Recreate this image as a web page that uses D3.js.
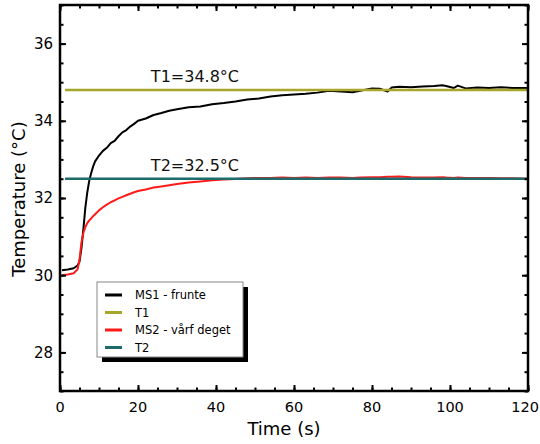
<!DOCTYPE html>
<html>
<head>
<meta charset="utf-8">
<script src="https://cdn.jsdelivr.net/npm/d3@7"></script>
<style>
  body { margin: 0; background: #fff; }
  svg { font-family: "DejaVu Sans", sans-serif; }
</style>
</head>
<body>
<script>
// time axis (s)
const time = [0.5, 2, 3.5, 4.5, 5, 5.5, 6, 6.5, 7, 7.5, 8, 8.5, 9, 10, 11, 12, 13, 14, 15, 16, 17, 18, 19, 20,
  22, 24, 26, 28, 30, 33, 36, 39, 42, 45, 48, 51, 54, 57, 60, 63, 66, 69, 72, 75, 77, 80, 82, 84, 85, 87,
  90, 93, 96, 98, 99, 101, 102, 104, 107, 110, 113, 116, 120];

// MS1 - frunte
const ms1 = [30.13, 30.15, 30.18, 30.25, 30.35, 30.7, 31.2, 31.75, 32.15, 32.45, 32.65, 32.82, 32.95, 33.1, 33.22, 33.3,
  33.42, 33.48, 33.6, 33.7, 33.76, 33.85, 33.92, 34.0, 34.06, 34.15, 34.2, 34.26, 34.3, 34.35, 34.37, 34.43,
  34.46, 34.5, 34.55, 34.58, 34.63, 34.66, 34.68, 34.7, 34.73, 34.78, 34.76, 34.74, 34.78, 34.84, 34.83, 34.76,
  34.86, 34.88, 34.87, 34.89, 34.9, 34.92, 34.9, 34.85, 34.91, 34.84, 34.86, 34.85, 34.87, 34.85, 34.85];

// MS2 - vårf deget
const ms2 = [30.0, 30.02, 30.05, 30.15, 30.4, 30.85, 31.1, 31.25, 31.35, 31.42, 31.47, 31.53, 31.58, 31.68, 31.76, 31.83,
  31.89, 31.94, 31.99, 32.03, 32.07, 32.11, 32.15, 32.18, 32.22, 32.27, 32.3, 32.33, 32.36, 32.4, 32.43, 32.46,
  32.48, 32.49, 32.51, 32.52, 32.52, 32.53, 32.52, 32.53, 32.52, 32.53, 32.53, 32.52, 32.53, 32.54, 32.54, 32.55,
  32.55, 32.56, 32.54, 32.53, 32.53, 32.54, 32.53, 32.52, 32.53, 32.52, 32.52, 32.52, 32.51, 32.51, 32.5];

// reference temperatures
const refNames = ["T1", "T2"];
const refValues = [34.8, 32.5];
const refStart = 1.3;

const xTicks = [0, 20, 40, 60, 80, 100, 120];
const yTicks = [28, 30, 32, 34, 36];

const W = 540, H = 444;
const pLeft = 60, pRight = 528, pTop = 5, pBottom = 391;

const svg = d3.select("body").append("svg")
  .attr("width", W)
  .attr("height", H);

svg.append("rect").attr("width", W).attr("height", H).attr("fill", "#fff");

const x = d3.scaleLinear().domain([0, 120]).range([pLeft, pRight]);
const y = d3.scaleLinear().domain([27, 37]).range([pBottom, pTop]);

const colors = { ms1: "#000000", T1: "#a6a62a", ms2: "#ff1a1a", T2: "#1d6b6b" };

const line = d3.line()
  .x(d => x(d[0]))
  .y(d => y(d[1]));

const plot = svg.append("g");

// series drawn in legend order: MS1, T1, MS2, T2
plot.append("path")
  .datum(time.map((t, i) => [t, ms1[i]]))
  .attr("d", line)
  .attr("fill", "none")
  .attr("stroke", colors.ms1)
  .attr("stroke-width", 2)
  .attr("stroke-linejoin", "round");

function refLine(i) {
  plot.append("path")
    .datum([[refStart, refValues[i]], [120, refValues[i]]])
    .attr("d", line)
    .attr("fill", "none")
    .attr("stroke", colors[refNames[i]])
    .attr("stroke-width", 2.5);
}

refLine(0);

plot.append("path")
  .datum(time.map((t, i) => [t, ms2[i]]))
  .attr("d", line)
  .attr("fill", "none")
  .attr("stroke", colors.ms2)
  .attr("stroke-width", 2)
  .attr("stroke-linejoin", "round");

refLine(1);

// labels above the reference lines
refNames.forEach((n, i) => {
  svg.append("text")
    .attr("x", x(34.6))
    .attr("y", y(refValues[i]) - 8)
    .attr("text-anchor", "middle")
    .attr("font-size", 16)
    .attr("fill", "#111")
    .text(n + "=" + refValues[i] + "°C");
});

// axes: ticks pointing inward, on all four sides
const xMinor = d3.range(0, 121, 5);
const yMinor = d3.range(27, 37.01, 0.5);

const bx = svg.append("g")
  .attr("transform", `translate(0,${pBottom})`)
  .call(d3.axisTop(x).tickValues(xMinor).tickSize(3.5).tickFormat(""));
const bx2 = svg.append("g")
  .attr("transform", `translate(0,${pBottom})`)
  .call(d3.axisTop(x).tickValues(xTicks).tickSize(6).tickFormat(""));
const tx = svg.append("g")
  .attr("transform", `translate(0,${pTop})`)
  .call(d3.axisBottom(x).tickValues(xMinor).tickSize(3.5).tickFormat(""));
const tx2 = svg.append("g")
  .attr("transform", `translate(0,${pTop})`)
  .call(d3.axisBottom(x).tickValues(xTicks).tickSize(6).tickFormat(""));
const ly = svg.append("g")
  .attr("transform", `translate(${pLeft},0)`)
  .call(d3.axisRight(y).tickValues(yMinor).tickSize(3.5).tickFormat(""));
const ly2 = svg.append("g")
  .attr("transform", `translate(${pLeft},0)`)
  .call(d3.axisRight(y).tickValues(yTicks).tickSize(6).tickFormat(""));
const ry = svg.append("g")
  .attr("transform", `translate(${pRight},0)`)
  .call(d3.axisLeft(y).tickValues(yMinor).tickSize(3.5).tickFormat(""));
const ry2 = svg.append("g")
  .attr("transform", `translate(${pRight},0)`)
  .call(d3.axisLeft(y).tickValues(yTicks).tickSize(6).tickFormat(""));

[bx, bx2, tx, tx2, ly, ly2, ry, ry2].forEach(g => {
  g.select(".domain").remove();
  g.selectAll(".tick line").attr("stroke", "#000").attr("stroke-width", 2);
});

// frame
svg.append("rect")
  .attr("x", pLeft).attr("y", pTop)
  .attr("width", pRight - pLeft).attr("height", pBottom - pTop)
  .attr("fill", "none")
  .attr("stroke", "#000")
  .attr("stroke-width", 2.5);

// tick labels (the last one is kept inside the page)
svg.append("g").selectAll("text")
  .data(xTicks)
  .join("text")
  .attr("y", pBottom + 21)
  .attr("text-anchor", "middle")
  .attr("font-size", 14.5)
  .text(d => d)
  .attr("x", function(d) {
    const half = this.getComputedTextLength() / 2;
    return Math.min(x(d), W - half - 1);
  });

svg.append("g").selectAll("text")
  .data(yTicks)
  .join("text")
  .attr("x", pLeft - 7)
  .attr("y", d => y(d))
  .attr("dy", "0.36em")
  .attr("text-anchor", "end")
  .attr("font-size", 15)
  .text(d => d);

// axis titles
svg.append("text")
  .attr("x", 284)
  .attr("y", 435)
  .attr("text-anchor", "middle")
  .attr("font-size", 18)
  .text("Time (s)");

svg.append("text")
  .attr("transform", "translate(25,199) rotate(-90)")
  .attr("text-anchor", "middle")
  .attr("font-size", 18)
  .text("Temperature (°C)");

// legend
const legendItems = [
  { label: "MS1 - frunte", color: colors.ms1 },
  { label: "T1", color: colors.T1 },
  { label: "MS2 - vårf deget", color: colors.ms2 },
  { label: "T2", color: colors.T2 }
];

const lg = svg.append("g").attr("transform", "translate(97,282)");
lg.append("rect")
  .attr("x", 5).attr("y", 5)
  .attr("width", 146).attr("height", 75)
  .attr("fill", "#000");
lg.append("rect")
  .attr("x", 0).attr("y", 0)
  .attr("width", 146).attr("height", 75)
  .attr("fill", "#fff")
  .attr("stroke", "#888")
  .attr("stroke-width", 1);

const item = lg.selectAll(".item")
  .data(legendItems)
  .join("g")
  .attr("transform", (d, i) => `translate(0,${13 + i * 17.5})`);
item.append("line")
  .attr("x1", 8).attr("x2", 25)
  .attr("stroke", d => d.color)
  .attr("stroke-width", 3);
item.append("text")
  .attr("x", 38)
  .attr("dy", "0.36em")
  .attr("font-size", 11.5)
  .text(d => d.label);
</script>
</body>
</html>
